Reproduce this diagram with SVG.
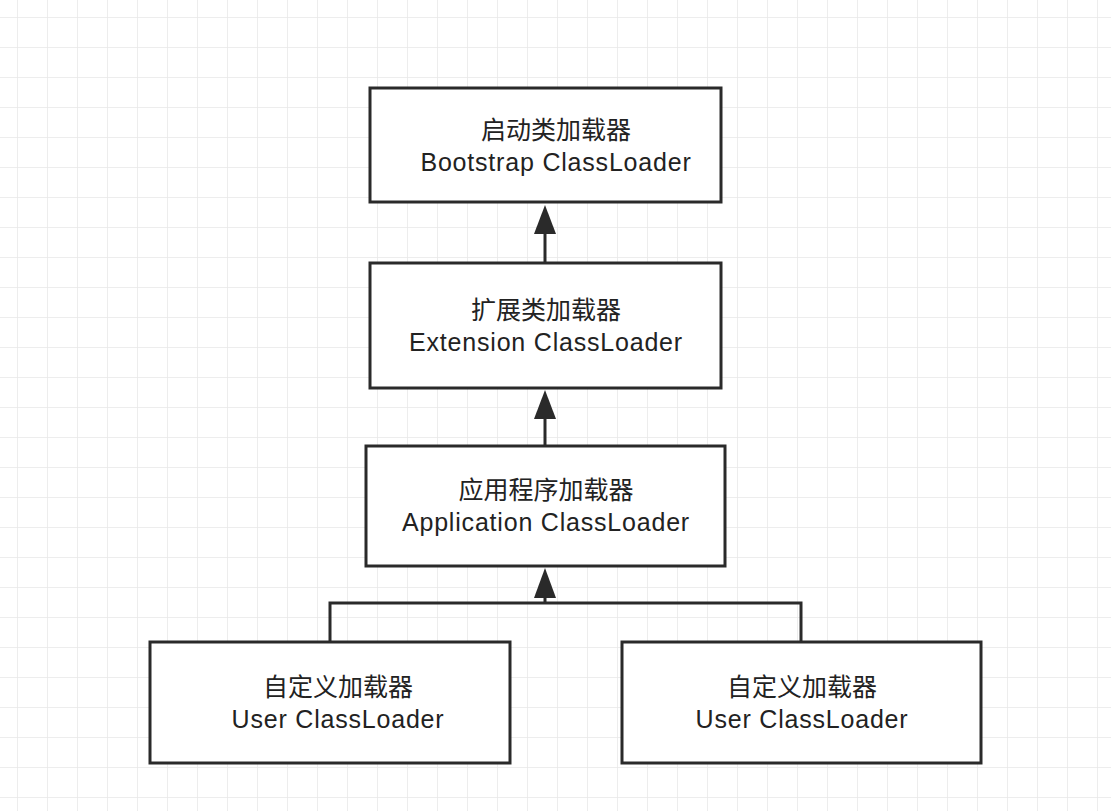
<svg xmlns="http://www.w3.org/2000/svg" width="1111" height="811" viewBox="0 0 1111 811">
<defs>
<pattern id="g" x="17" y="17" width="30" height="30" patternUnits="userSpaceOnUse">
<path d="M0 0H30M0 0V30" fill="none" stroke="#e8e8e8" stroke-width="1.5"/>
</pattern>
<style>
.b{fill:#fff;stroke:#2a2a2a;stroke-width:3}
.t{font-family:"Liberation Sans","Noto Sans CJK SC",sans-serif;font-size:25px;fill:#222;text-anchor:middle}
.e{letter-spacing:0.8px}
.c{fill:none;stroke:#2a2a2a;stroke-width:3}
.h{fill:#2a2a2a}
</style>
</defs>
<rect width="1111" height="811" fill="#fff"/>
<rect width="1111" height="811" fill="url(#g)"/>
<g id="connectors">
<path class="c" d="M545 232V263"/><path class="h" d="M545 205L534 234H556Z"/>
<path class="c" d="M545 416V446"/><path class="h" d="M545 390L534 419H556Z"/>
<path class="c" d="M545 596V603M330 642V603H801V642"/><path class="h" d="M545 568L534 598H556Z"/>
</g>
<g id="bootstrap"><rect class="b" x="370" y="88" width="351" height="114"/><text class="t" x="556" y="139">启动类加载器</text><text class="t e" x="556" y="171">Bootstrap ClassLoader</text></g>
<g id="extension"><rect class="b" x="370" y="263" width="351" height="125"/><text class="t" x="546" y="319">扩展类加载器</text><text class="t e" x="546" y="351">Extension ClassLoader</text></g>
<g id="application"><rect class="b" x="366" y="446" width="359" height="120"/><text class="t" x="546" y="499">应用程序加载器</text><text class="t e" x="546" y="531">Application ClassLoader</text></g>
<g id="user1"><rect class="b" x="150" y="642" width="360" height="121"/><text class="t" x="338" y="696">自定义加载器</text><text class="t e" x="338" y="728">User ClassLoader</text></g>
<g id="user2"><rect class="b" x="622" y="642" width="359" height="121"/><text class="t" x="802" y="696">自定义加载器</text><text class="t e" x="802" y="728">User ClassLoader</text></g>
</svg>
